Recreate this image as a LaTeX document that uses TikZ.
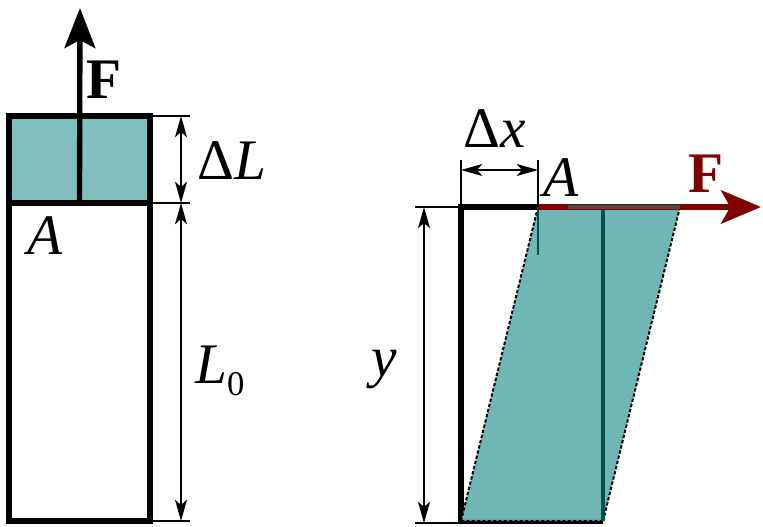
\documentclass[tikz,border=0pt]{standalone}
\usepackage{fontspec}
\setmainfont{Liberation Serif}
\usepackage{tikz}
\usetikzlibrary{
  arrows.meta,  % Stealth 箭头
  calc          % 坐标计算
}
\definecolor{tealL}{RGB}{128,191,191}
\definecolor{tealR}{RGB}{106,180,178}
\definecolor{tealD}{RGB}{0,80,80}
\definecolor{forcered}{RGB}{128,0,0}

\begin{document}
\begin{tikzpicture}[>={Stealth[length=16pt, width=9pt, inset=4pt]}, x=0.75pt, y=-0.75pt,
  lbl/.style={font=\fontsize{43}{48}\selectfont, inner sep=0pt},
  dim/.style={line width=1pt},
  thick edge/.style={line width=4pt}]
  \useasboundingbox (0,0) rectangle (763,527);

  % 左图：拉伸。宽度、原长与伸长量（像素单位）
  \def\wL{141}
  \def\lenL{318}
  \def\dL{87}

  % 定位左图各点
  \coordinate (P) at (9,521);            % 左下角
  \path (P) ++(\wL,0) coordinate (Q);    % 右下角
  \path (P) ++(0,-\lenL) coordinate (PA); % 原顶面左端
  \path (Q) ++(0,-\lenL) coordinate (QA);
  \path (PA) ++(0,-\dL) coordinate (PT);  % 伸长后顶面
  \path (QA) ++(0,-\dL) coordinate (QT);

  % 1. 伸长部分（青色）
  \fill[tealL] (PA) rectangle (QT);
  \draw[thick edge] (PT) -- (QT) -- (Q) -- (P) -- cycle;
  \draw[thick edge] (PA) -- (QA);

  % 拉力 F
  \coordinate (FB) at ($(PA)!0.5!(QA)$);
  \coordinate (FT) at (80,8);
  \draw[thick edge, -{Stealth[length=30pt, width=23pt, inset=6pt]}] (FB) -- (FT);
  \node[lbl, font=\fontsize{43}{48}\selectfont\bfseries] (Fl) at (104,80) {F};
  \node[lbl] (Al) at (45,236) {\textit{A}};

  % 2. 尺寸线 ΔL 与 L0
  \coordinate (eT) at (190,116);
  \coordinate (eA) at (190,203);
  \coordinate (eB) at (190,521);
  \draw[dim] (QT) -- (eT) (QA) -- (eA) (Q) -- (eB);
  \draw[dim, <->] (181,116) -- (181,203);
  \draw[dim, <->] (181,203) -- (181,521);
  \node[lbl] (dLl) at (232,161) {Δ\textit{L}};
  \node[lbl, anchor=base west] (L0l) at (195,383) {\textit{L}\raisebox{-9pt}{\fontsize{26}{28}\selectfont 0}};

  % 右图：剪切。宽度、高度与错位量
  \def\wR{142}
  \def\hR{314}
  \def\dx{77}

  \coordinate (R1) at (461,521);         % 左下角
  \path (R1) ++(\wR,0) coordinate (R2);   % 右下角
  \path (R1) ++(0,-\hR) coordinate (R4);  % 左上角
  \path (R2) ++(0,-\hR) coordinate (R3);
  \path (R4) ++(\dx,0) coordinate (S4);   % 错位后左上角
  \path (R3) ++(\dx,0) coordinate (S3);

  % 3. 原长方体轮廓
  \draw[thick edge] (S4) -- (R4) -- (R1) -- (R2);

  % 错位后的平行六面体（青色）
  \fill[tealR, opacity=0.97] (R1) -- (R2) -- (S3) -- (S4) -- cycle;
  \draw[line width=1.5pt, dash pattern=on 2.5pt off 1.5pt] (R1) -- (S4) (R2) -- (S3) (R1) -- (R2);
  \draw[line width=3.5pt, tealD] (R2) -- (R3);
  \draw[line width=1pt, tealD] (S4) -- ++(0,48);

  % 剪力 F
  \coordinate (FR) at (761,207);
  \draw[line width=4pt, forcered, -{Stealth[length=30pt, width=25pt, inset=7pt]}] (S4) -- (FR);
  \draw[line width=3pt, black!70] (568,207) -- (S3);
  \node[lbl, font=\fontsize{43}{48}\selectfont\bfseries, text=forcered, anchor=base west] (Fr) at (688,193) {F};
  \node[lbl, anchor=base west] (Ar) at (543,197) {\textit{A}};

  % 4. 尺寸线 Δx 与 y
  \draw[dim] (R4) -- ++(0,-47) (S4) -- ++(0,-47);
  \draw[dim, <->] (461,170) -- (538,170);
  \node[lbl, anchor=base west] (dxl) at (463,148) {Δ\textit{x}};
  \coordinate (yT) at (415,207);
  \coordinate (yB) at (415,523);
  \draw[dim] (R4) -- (yT) (R1) ++(0,2) -- (yB);
  \draw[dim, <->] (424,207) -- (424,523);
  \node[lbl, anchor=base west] (yl) at (371,376) {\textit{y}};
\end{tikzpicture}
\end{document}
